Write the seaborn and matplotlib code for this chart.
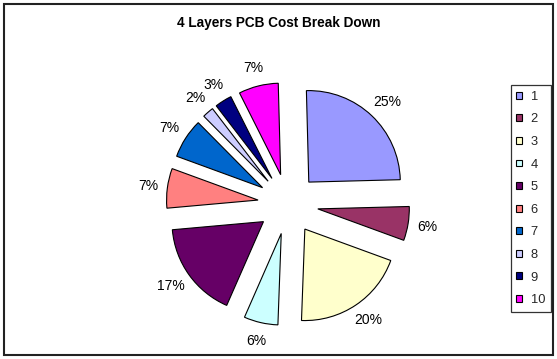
import matplotlib
matplotlib.use("Agg")
import numpy as np
import matplotlib.pyplot as plt
import seaborn as sns
from matplotlib.patches import Rectangle

categories = ["1", "2", "3", "4", "5", "6", "7", "8", "9", "10"]
values = [25, 6, 20, 6, 17, 7, 7, 2, 3, 7]
colors = ["#9999FF", "#993366", "#FFFFCC", "#CCFFFF", "#660066",
          "#FF8080", "#0066CC", "#CCCCFF", "#000080", "#FF00FF"]
title = "4 Layers PCB Cost Break Down"

sns.set_theme(style="white")
plt.rcParams['font.family'] = ['Liberation Sans', 'DejaVu Sans']

W, H = 557, 359
fig = plt.figure(figsize=(W / 100, H / 100), dpi=100)
fig.patch.set_facecolor("white")

# figure border
fig.add_artist(Rectangle((3.5 / W, 1 - 355 / H), 549.5 / W, 351.5 / H,
                         transform=fig.transFigure, fill=False,
                         edgecolor="#222222", linewidth=1.5))

L = 1.6
R = 91.5
EXP = 0.33
cx, cy = 288, 204
side = 2 * L * R
ax = fig.add_axes([(cx - side / 2) / W, (H - cy - side / 2) / H, side / W, side / H])

wedges, texts, autotexts = ax.pie(
    values, colors=colors, startangle=91.5, counterclock=False,
    explode=[EXP] * len(values), autopct='%1.0f%%', pctdistance=1.15,
    wedgeprops=dict(edgecolor="black", linewidth=0.8),
    textprops=dict(fontsize=10, color="black"))
ax.set_xlim(-L, L)
ax.set_ylim(-L, L)
ax.set_aspect("equal")
ax.axis("off")

# Excel-like "outside end" label placement
fig.canvas.draw()
renderer = fig.canvas.get_renderer()
D = 102.0 / R
for w, t in zip(wedges, autotexts):
    th = np.deg2rad((w.theta1 + w.theta2) / 2)
    ux, uy = np.cos(th), np.sin(th)
    ex, ey = EXP * ux, EXP * uy
    bb = t.get_window_extent(renderer)
    tw, tht = bb.width * 0.85 / R, 16.0 / R
    t.set_position((ex + D * ux + tw / 2 * ux, ey + D * uy + tht / 2 * uy))
    t.set_ha("center")
    t.set_va("center")

fig.text(278.5 / W, 1 - 23 / H, title, ha="center", va="center",
         fontsize=9.8, fontweight="bold", color="black")

leg = fig.legend(wedges, categories, loc="center left",
                 bbox_to_anchor=(511 / W, 1 - 198.5 / H),
                 bbox_transform=fig.transFigure, borderaxespad=0,
                 frameon=True, fancybox=False, fontsize=9.3,
                 handlelength=0.45, handleheight=0.45, handletextpad=0.65,
                 labelspacing=0.82, borderpad=0.42)
leg.get_frame().set_edgecolor("black")
leg.get_frame().set_linewidth(0.9)

fig.savefig("out.png", dpi=100, facecolor="white")
